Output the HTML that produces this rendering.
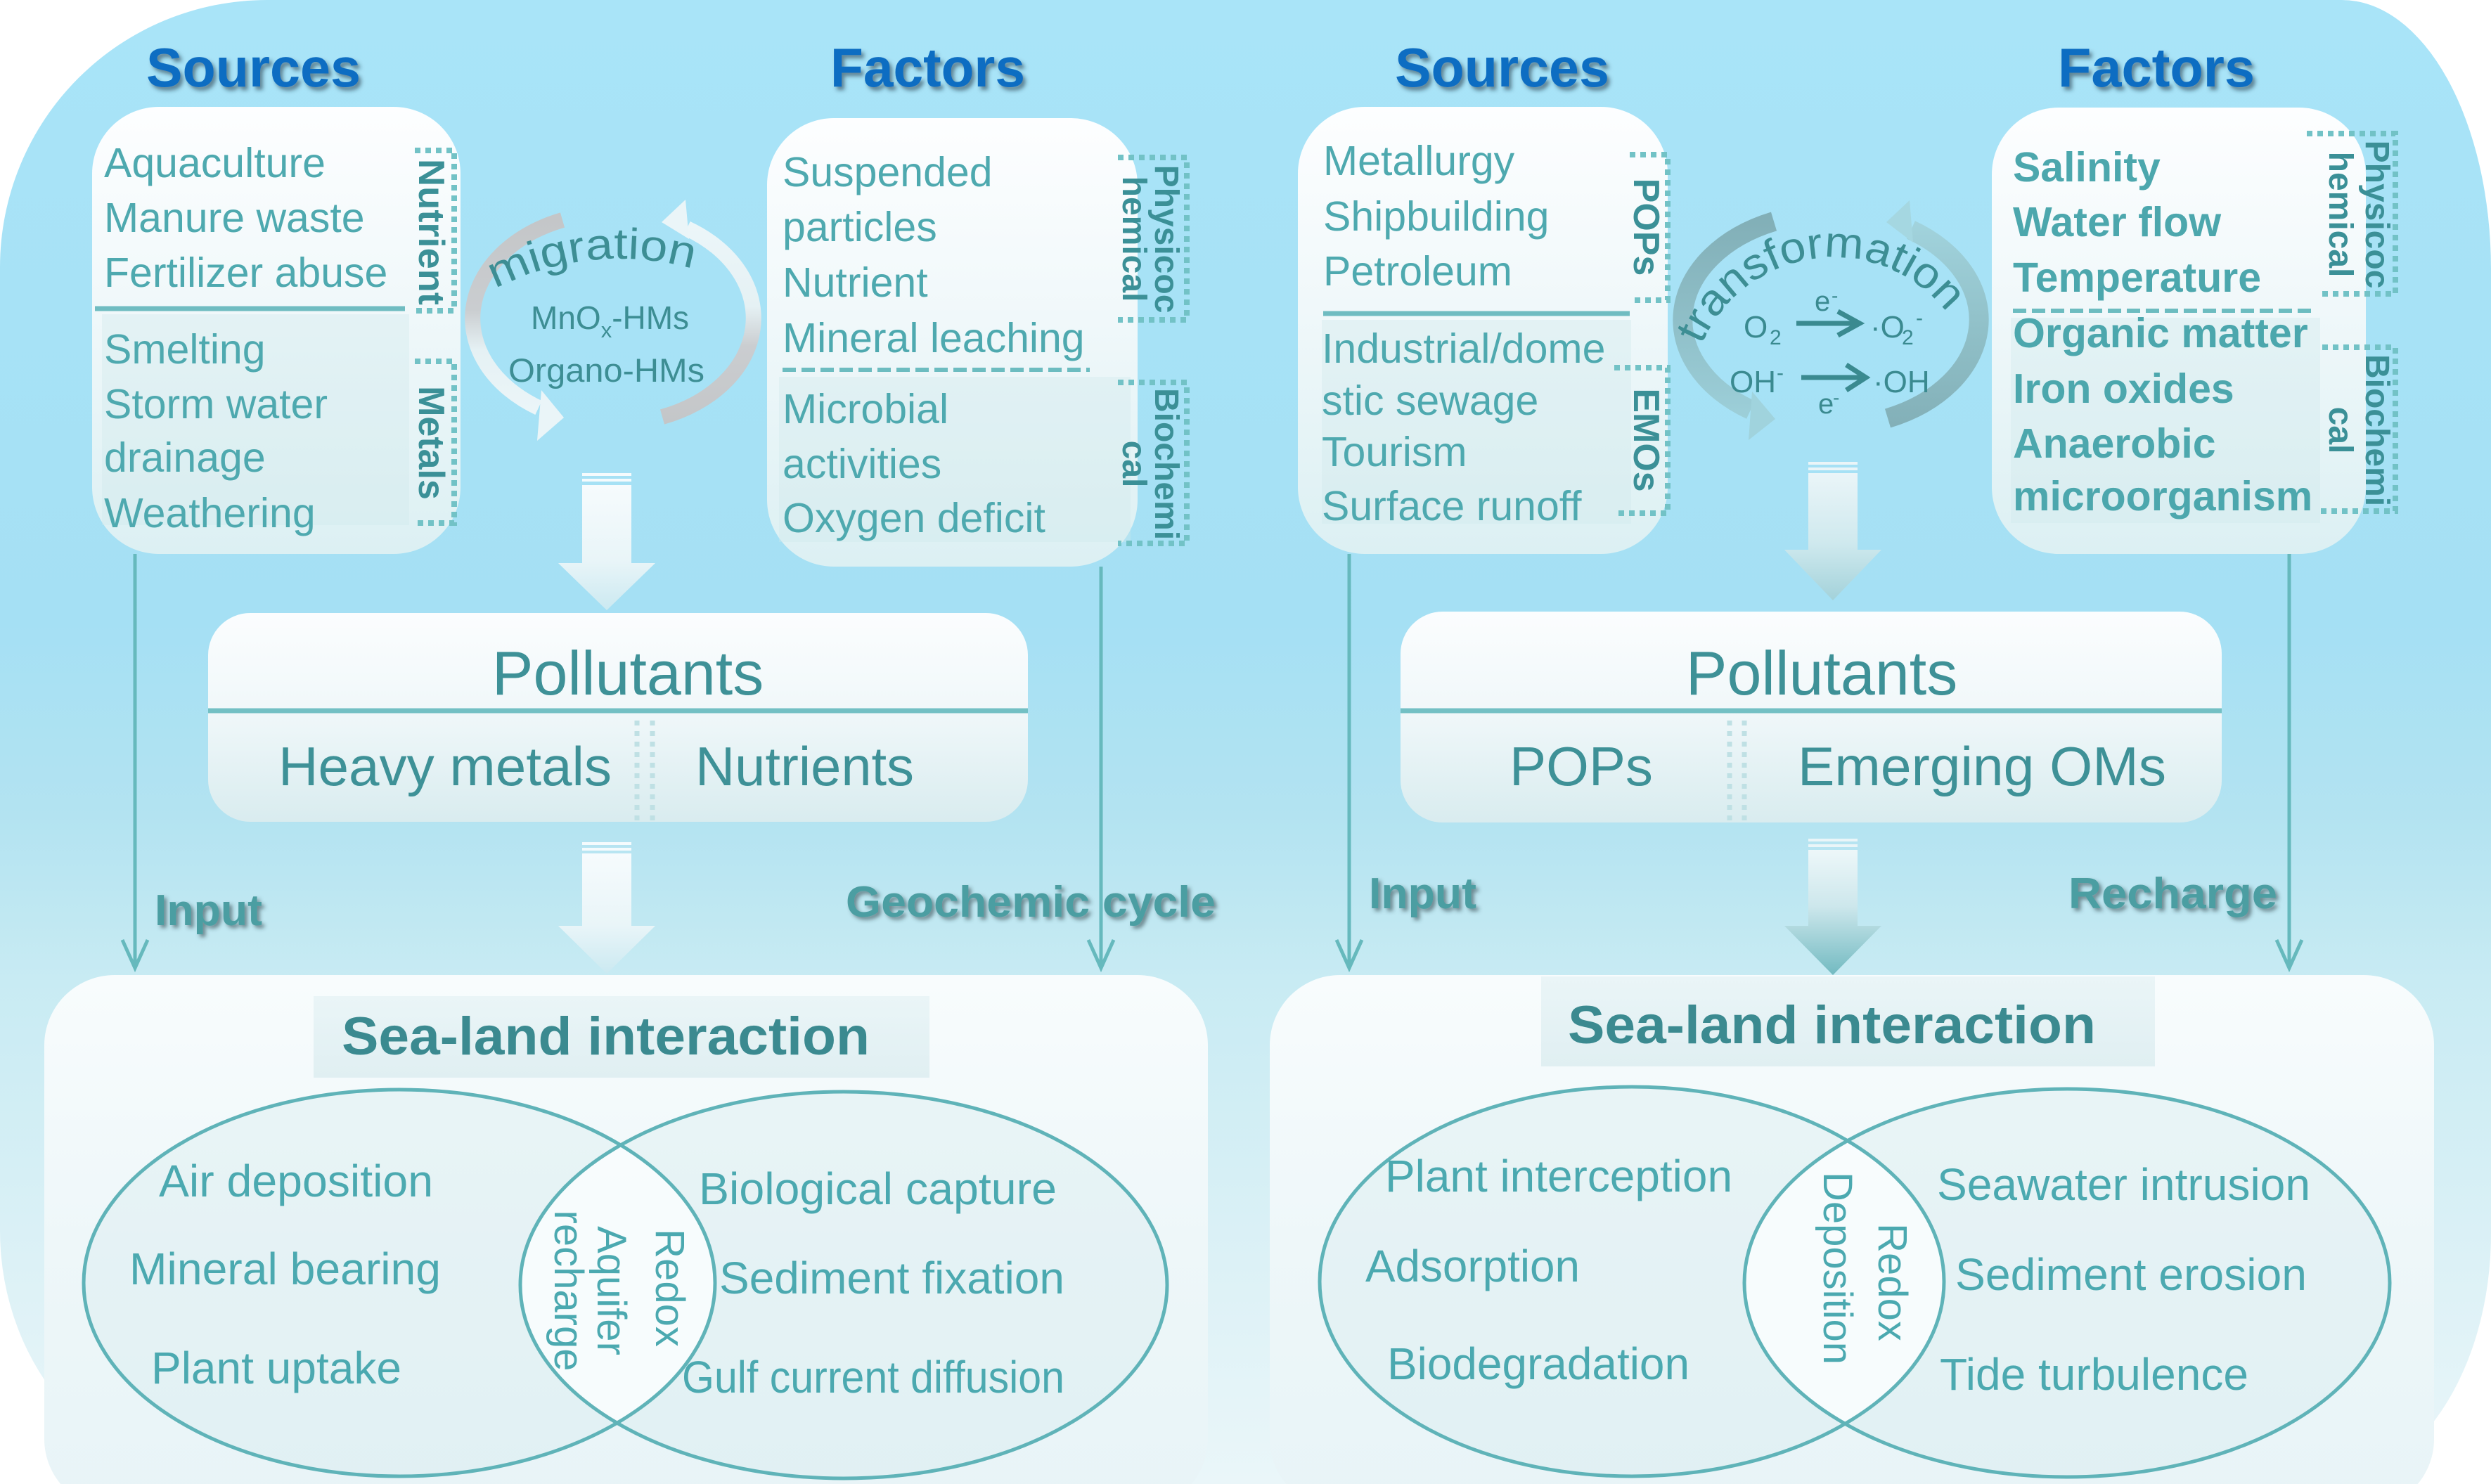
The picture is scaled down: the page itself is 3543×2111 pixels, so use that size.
<!DOCTYPE html>
<html>
<head>
<meta charset="utf-8">
<style>
html,body{margin:0;padding:0;background:#ffffff;}
svg{display:block;}
</style>
</head>
<body>
<svg xmlns="http://www.w3.org/2000/svg" width="3543" height="2111" viewBox="0 0 3543 2111" font-family="'Liberation Sans', Arial, sans-serif">
<defs>
  <linearGradient id="bg" x1="0" y1="0" x2="0" y2="1">
    <stop offset="0" stop-color="#a9e4f8"/>
    <stop offset="0.42" stop-color="#a5e0f4"/>
    <stop offset="0.55" stop-color="#b3e3f1"/>
    <stop offset="0.66" stop-color="#c8ebf3"/>
    <stop offset="0.85" stop-color="#dcf1f6"/>
    <stop offset="1" stop-color="#eaf6f9"/>
  </linearGradient>
  <linearGradient id="boxG" x1="0" y1="0" x2="0" y2="1">
    <stop offset="0" stop-color="#fdfeff"/>
    <stop offset="0.45" stop-color="#f0f8fa"/>
    <stop offset="1" stop-color="#dcf0f3"/>
  </linearGradient>
  <linearGradient id="polG" x1="0" y1="0" x2="0" y2="1">
    <stop offset="0" stop-color="#fbfdfe"/>
    <stop offset="0.45" stop-color="#f1f8fa"/>
    <stop offset="1" stop-color="#d9ecef"/>
  </linearGradient>
  <linearGradient id="seaG" x1="0" y1="0" x2="0" y2="1">
    <stop offset="0" stop-color="#f8fcfd"/>
    <stop offset="0.5" stop-color="#eef7f9"/>
    <stop offset="1" stop-color="#e8f4f7"/>
  </linearGradient>
  <linearGradient id="titG" x1="0" y1="0" x2="0" y2="1">
    <stop offset="0" stop-color="#eaf5f7"/>
    <stop offset="1" stop-color="#e0eff2"/>
  </linearGradient>
  <linearGradient id="awL" x1="0" y1="0" x2="0" y2="1">
    <stop offset="0" stop-color="#f6fbfd"/>
    <stop offset="0.6" stop-color="#e9f5f8"/>
    <stop offset="1" stop-color="#cbe9f1"/>
  </linearGradient>
  <linearGradient id="awR1" x1="0" y1="0" x2="0" y2="1">
    <stop offset="0" stop-color="#eaf5f8"/>
    <stop offset="0.55" stop-color="#cfe9ee"/>
    <stop offset="1" stop-color="#a3d2da"/>
  </linearGradient>
  <linearGradient id="awR2" x1="0" y1="0" x2="0" y2="1">
    <stop offset="0" stop-color="#edf7f9"/>
    <stop offset="0.45" stop-color="#cde7ec"/>
    <stop offset="1" stop-color="#72bac1"/>
  </linearGradient>
  <linearGradient id="migL" gradientUnits="userSpaceOnUse" x1="0" y1="290" x2="0" y2="625">
    <stop offset="0" stop-color="#c3c5c7"/>
    <stop offset="0.45" stop-color="#cacdd0"/>
    <stop offset="0.62" stop-color="#e5f1f4"/>
    <stop offset="1" stop-color="#eef7fa"/>
  </linearGradient>
  <linearGradient id="migR" gradientUnits="userSpaceOnUse" x1="0" y1="285" x2="0" y2="620">
    <stop offset="0" stop-color="#eef7fa"/>
    <stop offset="0.45" stop-color="#e5f1f4"/>
    <stop offset="0.62" stop-color="#cacdd0"/>
    <stop offset="1" stop-color="#c3c5c7"/>
  </linearGradient>
  <linearGradient id="trL" gradientUnits="userSpaceOnUse" x1="0" y1="290" x2="0" y2="628">
    <stop offset="0" stop-color="#80adb5"/>
    <stop offset="0.5" stop-color="#8fbfc8"/>
    <stop offset="1" stop-color="#a0d3dd"/>
  </linearGradient>
  <linearGradient id="trR" gradientUnits="userSpaceOnUse" x1="0" y1="284" x2="0" y2="622">
    <stop offset="0" stop-color="#a5d7e1"/>
    <stop offset="0.5" stop-color="#92c2ca"/>
    <stop offset="1" stop-color="#81aeb6"/>
  </linearGradient>
  <filter id="shH" x="-10%" y="-20%" width="130%" height="160%">
    <feDropShadow dx="4" dy="5" stdDeviation="3" flood-color="#1d3444" flood-opacity="0.55"/>
  </filter>
  <filter id="shL" x="-10%" y="-20%" width="130%" height="160%">
    <feDropShadow dx="4" dy="4" stdDeviation="3" flood-color="#2a3a3c" flood-opacity="0.55"/>
  </filter>
  <clipPath id="clA"><ellipse cx="568" cy="1825" rx="449" ry="275"/></clipPath>
  <clipPath id="clC"><ellipse cx="2321" cy="1823" rx="444" ry="277"/></clipPath>
  <path id="migP" d="M 660.7 437.4 A 384 384 0 0 1 1073 419.4" fill="none"/>
  <path id="trP" d="M 2411 517 A 204 204 0 0 1 2805 517" fill="none"/>
</defs>

<!-- outer background -->
<path d="M 380 0 H 3331 A 212 383 0 0 1 3543 383 V 1755 A 240 356 0 0 1 3303 2111 H 330 A 330 360 0 0 1 0 1751 V 380 A 380 380 0 0 1 380 0 Z" fill="url(#bg)"/>

<!-- headings -->
<g font-weight="bold" font-size="78" fill="#0d6dc2" filter="url(#shH)">
  <text x="208" y="123" textLength="305" lengthAdjust="spacingAndGlyphs">Sources</text>
  <text x="1181" y="123" textLength="277" lengthAdjust="spacingAndGlyphs">Factors</text>
  <text x="1984" y="123" textLength="305" lengthAdjust="spacingAndGlyphs">Sources</text>
  <text x="2927" y="123" textLength="280" lengthAdjust="spacingAndGlyphs">Factors</text>
</g>

<!-- top boxes -->
<rect x="131" y="152" width="524" height="636" rx="95" fill="url(#boxG)"/>
<rect x="1091" y="168" width="527" height="638" rx="95" fill="url(#boxG)"/>
<rect x="1846" y="152" width="526" height="636" rx="95" fill="url(#boxG)"/>
<rect x="2833" y="153" width="532" height="635" rx="95" fill="url(#boxG)"/>
<g fill="#cfe8eb" opacity="0.35">
  <rect x="145" y="447" width="437" height="300"/>
  <rect x="1108" y="536" width="500" height="235"/>
  <rect x="1880" y="455" width="440" height="290"/>
  <rect x="2860" y="452" width="440" height="292"/>
</g>

<!-- left sources text -->
<g font-size="59" fill="#4ea9af">
  <text x="148" y="252">Aquaculture</text>
  <text x="148" y="330">Manure waste</text>
  <text x="148" y="408">Fertilizer abuse</text>
  <text x="148" y="517">Smelting</text>
  <text x="148" y="595">Storm water</text>
  <text x="148" y="671">drainage</text>
  <text x="148" y="750">Weathering</text>
</g>
<line x1="135" y1="439" x2="576" y2="439" stroke="#6fbcc1" stroke-width="7"/>

<!-- left factors text -->
<g font-size="59" fill="#4ea9af">
  <text x="1113" y="265">Suspended</text>
  <text x="1113" y="343">particles</text>
  <text x="1113" y="422">Nutrient</text>
  <text x="1113" y="501">Mineral leaching</text>
  <text x="1113" y="602">Microbial</text>
  <text x="1113" y="680">activities</text>
  <text x="1113" y="757">Oxygen deficit</text>
</g>
<line x1="1113" y1="526" x2="1550" y2="526" stroke="#6cbcc0" stroke-width="6" stroke-dasharray="19 8"/>

<!-- right sources text -->
<g font-size="59" fill="#4ea9af">
  <text x="1882" y="249">Metallurgy</text>
  <text x="1882" y="328">Shipbuilding</text>
  <text x="1882" y="406">Petroleum</text>
  <text x="1880" y="516">Industrial/dome</text>
  <text x="1880" y="590">stic sewage</text>
  <text x="1880" y="663">Tourism</text>
  <text x="1880" y="740">Surface runoff</text>
</g>
<line x1="1882" y1="446" x2="2318" y2="446" stroke="#6fbcc1" stroke-width="7"/>

<!-- right factors text -->
<g font-size="59" font-weight="bold" fill="#4ca7ad">
  <text x="2863" y="258">Salinity</text>
  <text x="2863" y="336">Water flow</text>
  <text x="2863" y="415">Temperature</text>
  <text x="2863" y="494">Organic matter</text>
  <text x="2863" y="573">Iron oxides</text>
  <text x="2863" y="651">Anaerobic</text>
  <text x="2863" y="726">microorganism</text>
</g>
<line x1="2863" y1="442" x2="3295" y2="442" stroke="#6cbcc0" stroke-width="6" stroke-dasharray="19 8"/>

<!-- dotted brackets -->
<g fill="none" stroke="#72c2c6" stroke-width="8" stroke-dasharray="8 7">
  <path d="M 590 214 H 646 V 442 H 590"/>
  <path d="M 590 514 H 646 V 744 H 590"/>
  <path d="M 1590 224 H 1688 V 455 H 1590"/>
  <path d="M 1590 544 H 1688 V 773 H 1590"/>
  <path d="M 2318 220 H 2372 V 427 H 2318"/>
  <path d="M 2296 523 H 2372 V 730 H 2296"/>
  <path d="M 3281 190 H 3407 V 418 H 3300"/>
  <path d="M 3303 494 H 3407 V 727 H 3297"/>
</g>
<g font-weight="bold" fill="#3b9097" text-anchor="middle">
  <text transform="translate(596,330) rotate(90)" font-size="52" textLength="208" lengthAdjust="spacingAndGlyphs">Nutrient</text>
  <text transform="translate(596,630) rotate(90)" font-size="52">Metals</text>
  <text transform="translate(1643,340) rotate(90)" font-size="48">Physicoc</text>
  <text transform="translate(1597,340) rotate(90)" font-size="48">hemical</text>
  <text transform="translate(1643,660) rotate(90)" font-size="48">Biochemi</text>
  <text transform="translate(1597,660) rotate(90)" font-size="48">cal</text>
  <text transform="translate(2324,323) rotate(90)" font-size="52">POPs</text>
  <text transform="translate(2324,626) rotate(90)" font-size="52">EMOs</text>
  <text transform="translate(3365,305) rotate(90)" font-size="48">Physicoc</text>
  <text transform="translate(3313,305) rotate(90)" font-size="48">hemical</text>
  <text transform="translate(3365,612) rotate(90)" font-size="48">Biochemi</text>
  <text transform="translate(3313,612) rotate(90)" font-size="48">cal</text>
</g>

<!-- migration cycle -->
<path d="M 800 313 A 200 150 0 0 0 766 580" fill="none" stroke="url(#migL)" stroke-width="22"/>
<polygon points="770,555 764,627 802,594" fill="#eaf5f8"/>
<path d="M 942 593 A 200 150 0 0 0 977 325" fill="none" stroke="url(#migR)" stroke-width="22"/>
<polygon points="975,284 980,340 941,316" fill="#eaf5f8"/>
<text font-size="62" fill="#3d8e94"><textPath href="#migP" startOffset="51" textLength="289" lengthAdjust="spacingAndGlyphs">migration</textPath></text>
<g fill="#3d8e94">
  <text x="755" y="468" font-size="46">MnO<tspan font-size="31" dy="12">x</tspan><tspan dy="-12">-HMs</tspan></text>
  <text x="723" y="543" font-size="47" textLength="279" lengthAdjust="spacingAndGlyphs">Organo-HMs</text>
</g>

<!-- transformation cycle -->
<path d="M 2523 315 A 211 152 0 0 0 2490 583" fill="none" stroke="url(#trL)" stroke-width="28"/>
<polygon points="2492,557 2487,626 2525,596" fill="#a0d3dd"/>
<path d="M 2685 595 A 211 152 0 0 0 2718 327" fill="none" stroke="url(#trR)" stroke-width="28"/>
<polygon points="2716,285 2721,345 2683,316" fill="#a5d7e1"/>
<text font-size="62" fill="#3d8e94"><textPath href="#trP" startOffset="28" textLength="424" lengthAdjust="spacingAndGlyphs">transformation</textPath></text>
<g fill="#3a8a90">
  <text x="2480" y="480" font-size="44">O</text>
  <text x="2517" y="490" font-size="30">2</text>
  <text x="2581" y="442" font-size="40">e</text>
  <text x="2605" y="430" font-size="28">-</text>
  <text x="2660" y="480" font-size="44">·O</text>
  <text x="2705" y="490" font-size="30">2</text>
  <text x="2725" y="462" font-size="30">-</text>
  <text x="2460" y="558" font-size="44">OH</text>
  <text x="2527" y="540" font-size="30">-</text>
  <text x="2586" y="588" font-size="40">e</text>
  <text x="2607" y="575" font-size="28">-</text>
  <text x="2664" y="558" font-size="44">·OH</text>
</g>
<g stroke="#3a8a90" stroke-width="7" fill="none">
  <line x1="2555" y1="460" x2="2642" y2="460"/>
  <polyline points="2614,443 2645,460 2614,477"/>
  <line x1="2562" y1="537" x2="2650" y2="537"/>
  <polyline points="2626,519 2654,537 2626,555"/>
</g>

<!-- big down arrows -->
<g fill="#f5fbfd">
  <rect x="828" y="673" width="70" height="4"/>
  <rect x="828" y="681" width="70" height="4"/>
  <rect x="828" y="1198" width="70" height="4"/>
  <rect x="828" y="1206" width="70" height="4"/>
</g>
<polygon points="828,690 898,690 898,801 932,801 863,868 794,801 828,801" fill="url(#awL)"/>
<polygon points="828,1214 898,1214 898,1317 932,1317 863,1385 794,1317 828,1317" fill="url(#awL)"/>
<g fill="#eaf5f8">
  <rect x="2572" y="657" width="70" height="4"/>
  <rect x="2572" y="665" width="70" height="4"/>
  <rect x="2572" y="1193" width="70" height="4"/>
  <rect x="2572" y="1201" width="70" height="4"/>
</g>
<polygon points="2572,673 2642,673 2642,782 2676,782 2607,854 2538,782 2572,782" fill="url(#awR1)"/>
<polygon points="2572,1209 2642,1209 2642,1317 2676,1317 2607,1387 2538,1317 2572,1317" fill="url(#awR2)"/>

<!-- pollutants boxes -->
<rect x="296" y="872" width="1166" height="297" rx="60" fill="url(#polG)"/>
<rect x="1992" y="870" width="1168" height="300" rx="60" fill="url(#polG)"/>
<line x1="296" y1="1011" x2="1462" y2="1011" stroke="#73c0c4" stroke-width="7"/>
<line x1="1992" y1="1011" x2="3160" y2="1011" stroke="#73c0c4" stroke-width="7"/>
<g stroke="#bfe0e4" stroke-width="7" stroke-dasharray="7 8">
  <line x1="906" y1="1025" x2="906" y2="1168"/>
  <line x1="928" y1="1025" x2="928" y2="1168"/>
  <line x1="2460" y1="1025" x2="2460" y2="1168"/>
  <line x1="2481" y1="1025" x2="2481" y2="1168"/>
</g>
<g fill="#3e9197">
  <text x="893" y="988" font-size="88" text-anchor="middle">Pollutants</text>
  <text x="2591" y="988" font-size="88" text-anchor="middle">Pollutants</text>
  <text x="396" y="1117" font-size="78" textLength="474" lengthAdjust="spacingAndGlyphs">Heavy metals</text>
  <text x="989" y="1117" font-size="78" textLength="311" lengthAdjust="spacingAndGlyphs">Nutrients</text>
  <text x="2147" y="1117" font-size="78" textLength="204" lengthAdjust="spacingAndGlyphs">POPs</text>
  <text x="2557" y="1117" font-size="78" textLength="524" lengthAdjust="spacingAndGlyphs">Emerging OMs</text>
</g>

<!-- connector lines -->
<g stroke="#66b9bd" stroke-width="5" fill="none">
  <line x1="192" y1="788" x2="192" y2="1376"/>
  <polyline points="174,1337 192,1377 210,1337"/>
  <line x1="1566" y1="806" x2="1566" y2="1376"/>
  <polyline points="1548,1337 1566,1377 1584,1337"/>
  <line x1="1919" y1="788" x2="1919" y2="1376"/>
  <polyline points="1901,1337 1919,1377 1937,1337"/>
  <line x1="3256" y1="788" x2="3256" y2="1376"/>
  <polyline points="3238,1337 3256,1377 3274,1337"/>
</g>
<g font-weight="bold" font-size="62" fill="#4c9ea2" filter="url(#shL)">
  <text x="220" y="1316" textLength="153" lengthAdjust="spacingAndGlyphs">Input</text>
  <text x="1203" y="1304" textLength="526" lengthAdjust="spacingAndGlyphs">Geochemic cycle</text>
  <text x="1947" y="1292" textLength="153" lengthAdjust="spacingAndGlyphs">Input</text>
  <text x="2942" y="1292" textLength="297" lengthAdjust="spacingAndGlyphs">Recharge</text>
</g>

<!-- sea-land boxes -->
<rect x="63" y="1387" width="1655" height="760" rx="100" fill="url(#seaG)"/>
<rect x="1806" y="1387" width="1656" height="760" rx="100" fill="url(#seaG)"/>
<rect x="446" y="1417" width="876" height="116" fill="url(#titG)"/>
<rect x="2192" y="1389" width="873" height="128" fill="url(#titG)"/>
<g font-weight="bold" font-size="76" fill="#3b8a90">
  <text x="486" y="1500" textLength="751" lengthAdjust="spacingAndGlyphs">Sea-land interaction</text>
  <text x="2230" y="1484" textLength="751" lengthAdjust="spacingAndGlyphs">Sea-land interaction</text>
</g>

<!-- Venn left -->
<ellipse cx="568" cy="1825" rx="449" ry="275" fill="#cfe7eb" fill-opacity="0.3"/>
<ellipse cx="1200" cy="1828" rx="460" ry="275" fill="#cfe7eb" fill-opacity="0.3"/>
<ellipse cx="1200" cy="1828" rx="460" ry="275" fill="#fbfeff" fill-opacity="0.85" clip-path="url(#clA)"/>
<ellipse cx="568" cy="1825" rx="449" ry="275" fill="none" stroke="#5fb3b8" stroke-width="5"/>
<ellipse cx="1200" cy="1828" rx="460" ry="275" fill="none" stroke="#5fb3b8" stroke-width="5"/>

<!-- Venn right -->
<ellipse cx="2321" cy="1823" rx="444" ry="277" fill="#cfe7eb" fill-opacity="0.3"/>
<ellipse cx="2940" cy="1825" rx="459" ry="276" fill="#cfe7eb" fill-opacity="0.3"/>
<ellipse cx="2940" cy="1825" rx="459" ry="276" fill="#fbfeff" fill-opacity="0.85" clip-path="url(#clC)"/>
<ellipse cx="2321" cy="1823" rx="444" ry="277" fill="none" stroke="#5fb3b8" stroke-width="5"/>
<ellipse cx="2940" cy="1825" rx="459" ry="276" fill="none" stroke="#5fb3b8" stroke-width="5"/>

<g font-size="64" fill="#4ba9b0">
  <text x="226" y="1702" textLength="390" lengthAdjust="spacingAndGlyphs">Air deposition</text>
  <text x="184" y="1827" textLength="443" lengthAdjust="spacingAndGlyphs">Mineral bearing</text>
  <text x="215" y="1968" textLength="356" lengthAdjust="spacingAndGlyphs">Plant uptake</text>
  <text x="994" y="1713" textLength="509" lengthAdjust="spacingAndGlyphs">Biological capture</text>
  <text x="1023" y="1840" textLength="491" lengthAdjust="spacingAndGlyphs">Sediment fixation</text>
  <text x="970" y="1981" textLength="544" lengthAdjust="spacingAndGlyphs">Gulf current diffusion</text>
  <text x="1970" y="1695" textLength="494" lengthAdjust="spacingAndGlyphs">Plant interception</text>
  <text x="1942" y="1823" textLength="305" lengthAdjust="spacingAndGlyphs">Adsorption</text>
  <text x="1973" y="1962" textLength="430" lengthAdjust="spacingAndGlyphs">Biodegradation</text>
  <text x="2755" y="1707" textLength="531" lengthAdjust="spacingAndGlyphs">Seawater intrusion</text>
  <text x="2781" y="1835" textLength="500" lengthAdjust="spacingAndGlyphs">Sediment erosion</text>
  <text x="2759" y="1977" textLength="439" lengthAdjust="spacingAndGlyphs">Tide turbulence</text>
</g>
<g font-size="58" fill="#4ba9b0" text-anchor="middle">
  <text transform="translate(933,1832) rotate(90)">Redox</text>
  <text transform="translate(850,1836) rotate(90)">Aquifer</text>
  <text transform="translate(789,1836) rotate(90)">recharge</text>
  <text transform="translate(2672,1824) rotate(90)">Redox</text>
  <text transform="translate(2594,1804) rotate(90)">Deposition</text>
</g>
</svg>
</body>
</html>
